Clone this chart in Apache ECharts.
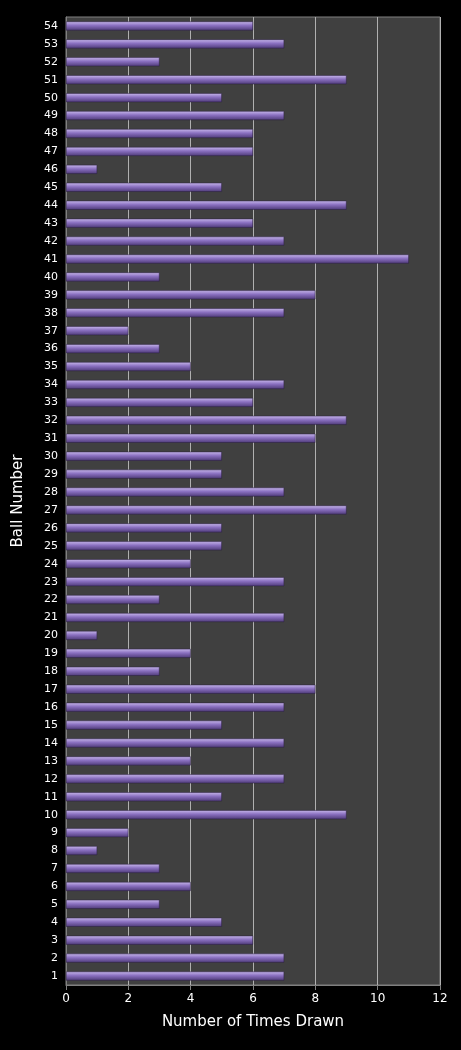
<!DOCTYPE html>
<html>
<head>
<meta charset="utf-8">
<script src="https://cdn.jsdelivr.net/npm/echarts@6/dist/echarts.min.js"></script>
<style>
  html, body { margin: 0; padding: 0; background: #000; }
  #chart { width: 461px; height: 1050px; }
</style>
</head>
<body>
<div id="chart"></div>
<script>
// ball numbers 1..54, bottom to top
var balls = []
for (var i = 1; i <= 54; i++) balls.push(String(i))

var timesDrawn = [
  7, 7, 6, 5, 3, 4, 3, 1, 2, 9,
  5, 7, 4, 7, 5, 7, 8, 3, 4, 1,
  7, 3, 7, 4, 5, 5, 9, 7, 5, 5,
  8, 9, 6, 7, 4, 3, 2, 7, 8, 3,
  11, 7, 6, 9, 5, 1, 6, 6, 7, 5,
  9, 3, 7, 6
]

var chart = echarts.init(document.getElementById('chart'))
chart.setOption({
  backgroundColor: '#000',
  animation: false,
  grid: {
    left: 66, right: 21, top: 17, bottom: 65,
    show: true, backgroundColor: '#404040', borderColor: '#808080', borderWidth: 1
  },
  xAxis: {
    type: 'value', min: 0, max: 12, interval: 2,
    name: 'Number of Times Drawn', nameLocation: 'middle', nameGap: 30,
    nameTextStyle: { color: '#fff', fontSize: 15, fontFamily: 'DejaVu Sans' },
    axisLabel: { color: '#fff', fontSize: 12, fontFamily: 'DejaVu Sans' },
    axisLine: { show: true, lineStyle: { color: '#808080' } },
    axisTick: { show: true, lineStyle: { color: '#808080' } },
    splitLine: { lineStyle: { color: '#b0b0b0' } }
  },
  yAxis: {
    type: 'category', data: balls,
    name: 'Ball Number', nameLocation: 'middle', nameGap: 40, nameRotate: 90,
    nameTextStyle: { color: '#fff', fontSize: 15, fontFamily: 'DejaVu Sans' },
    axisLabel: { color: '#fff', fontSize: 11, fontFamily: 'DejaVu Sans', interval: 0 },
    axisLine: { lineStyle: { color: '#808080' } },
    axisTick: { lineStyle: { color: '#808080' } }
  },
  series: [{
    type: 'bar',
    data: timesDrawn,
    barWidth: 9,
    itemStyle: {
      borderColor: '#2a1f40', borderWidth: 0.5,
      color: new echarts.graphic.LinearGradient(0, 0, 0, 1, [
        { offset: 0, color: '#c8b8ec' },
        { offset: 0.45, color: '#8a70c0' },
        { offset: 1, color: '#4e3a78' }
      ])
    }
  }]
})
</script>
</body>
</html>
